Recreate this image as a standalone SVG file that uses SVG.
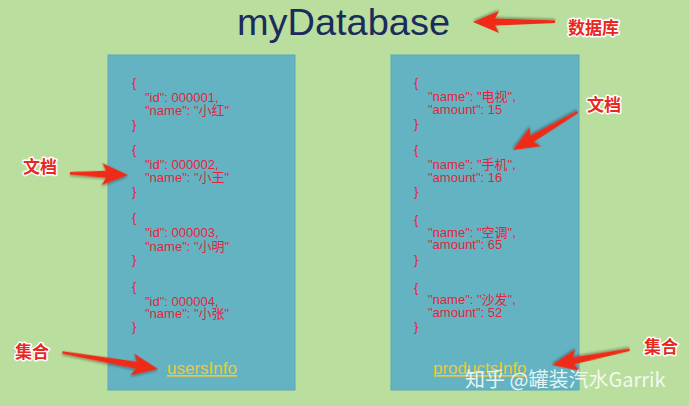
<svg xmlns="http://www.w3.org/2000/svg" width="689" height="406" viewBox="0 0 689 406">
<defs>
<filter id="sh" x="-20%" y="-50%" width="140%" height="200%">
<feDropShadow dx="0" dy="1.5" stdDeviation="1.2" flood-color="#000" flood-opacity="0.35"/>
</filter>
</defs>
<style>
.bg{fill:#b9de9d}
.box{fill:#64b3c2;stroke:#5aa8b8;stroke-width:1}
.title{font-family:"Liberation Sans","Noto Sans",sans-serif;font-size:36px;fill:#1b2b5c}
.doc{font-family:"Liberation Sans","Noto Sans CJK SC",sans-serif;font-size:13px;fill:#e2253c}
.coll{font-family:"Liberation Sans","Noto Sans",sans-serif;font-size:17px;fill:#ecc83c;text-decoration:underline}
.lbl{font-family:"Noto Sans CJK SC",sans-serif;font-weight:bold;font-size:17px;fill:#e8281e;stroke:#fff;stroke-width:3;paint-order:stroke;stroke-linejoin:round}
.arr{fill:#ef2c18;filter:url(#sh)}
.wm{font-family:"Noto Sans CJK SC","Noto Sans",sans-serif;font-size:20px;fill:#fff;fill-opacity:0.85}
</style>
<rect class="bg" x="0" y="0" width="689" height="406"/>
<g id="title"><text class="title" x="237" y="35" textLength="213" lengthAdjust="spacingAndGlyphs">myDatabase</text></g>
<g id="usersInfo">
<rect class="box" x="108" y="55" width="187" height="335"/>
<text class="doc" x="132" y="87">{</text>
<text class="doc" x="145" y="102">"id": 000001,</text>
<text class="doc" x="145" y="115">"name": "小红"</text>
<text class="doc" x="132" y="129">}</text>
<text class="doc" x="132" y="154">{</text>
<text class="doc" x="145" y="169">"id": 000002,</text>
<text class="doc" x="145" y="182">"name": "小王"</text>
<text class="doc" x="132" y="196">}</text>
<text class="doc" x="132" y="222">{</text>
<text class="doc" x="145" y="237">"id": 000003,</text>
<text class="doc" x="145" y="251">"name": "小明"</text>
<text class="doc" x="132" y="264">}</text>
<text class="doc" x="132" y="291">{</text>
<text class="doc" x="145" y="306">"id": 000004,</text>
<text class="doc" x="145" y="318">"name": "小张"</text>
<text class="doc" x="132" y="331">}</text>
<text class="coll" x="167" y="374">usersInfo</text>
</g>
<g id="productsInfo">
<rect class="box" x="391" y="55" width="188" height="335"/>
<text class="doc" x="414" y="87">{</text>
<text class="doc" x="428" y="101">"name": "电视",</text>
<text class="doc" x="428" y="114">"amount": 15</text>
<text class="doc" x="414" y="128">}</text>
<text class="doc" x="414" y="154">{</text>
<text class="doc" x="428" y="169">"name": "手机",</text>
<text class="doc" x="428" y="182">"amount": 16</text>
<text class="doc" x="414" y="196">}</text>
<text class="doc" x="414" y="224">{</text>
<text class="doc" x="428" y="237">"name": "空调",</text>
<text class="doc" x="428" y="249">"amount": 65</text>
<text class="doc" x="414" y="264">}</text>
<text class="doc" x="414" y="292">{</text>
<text class="doc" x="428" y="304">"name": "沙发",</text>
<text class="doc" x="428" y="317">"amount": 52</text>
<text class="doc" x="414" y="331">}</text>
<text class="coll" x="433" y="374">productsInfo</text>
</g>
<g id="labels">
<text class="lbl" x="568" y="34">数据库</text>
<text class="lbl" x="23" y="173">文档</text>
<text class="lbl" x="15" y="358">集合</text>
<text class="lbl" x="587" y="111">文档</text>
<text class="lbl" x="644" y="353">集合</text>
</g>
<g id="connectors">
<path class="arr" transform="translate(473,22) rotate(180)" d="M0,0 L-26,-11 L-22,-3.5 L-82,-1 L-82,1.5 L-22,3.5 L-26,11 Z"/>
<path class="arr" transform="translate(128,175) rotate(2)" d="M0,0 L-26,-11 L-22,-3.5 L-58,-1 L-58,1.5 L-22,3.5 L-26,11 Z"/>
<path class="arr" transform="translate(158,369) rotate(10)" d="M0,0 L-26,-11 L-22,-3.5 L-97,-1 L-97,1.5 L-22,3.5 L-26,11 Z"/>
<path class="arr" transform="translate(513,150) rotate(149.7)" d="M0,0 L-26,-11 L-22,-3.5 L-75,-1 L-75,1.5 L-22,3.5 L-26,11 Z"/>
<path class="arr" transform="translate(552,365) rotate(169.1)" d="M0,0 L-26,-11 L-22,-3.5 L-79,-1 L-79,1.5 L-22,3.5 L-26,11 Z"/>
</g>
<text class="wm" x="465" y="387">知乎 @罐装汽水Garrik</text>
</svg>
